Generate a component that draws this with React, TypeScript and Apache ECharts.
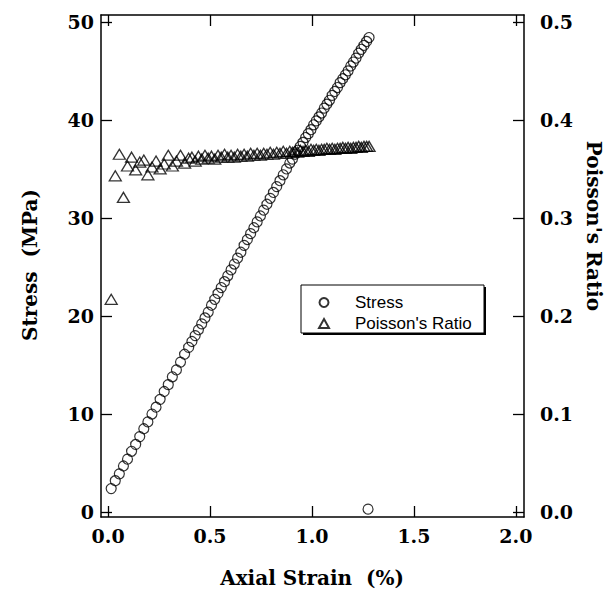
import React, { useEffect, useRef } from "react";
import * as echarts from "echarts";

// Axial strain (%) for each reading
const strain = [
  0.015, 0.035, 0.055, 0.075, 0.095, 0.115, 0.135, 0.155, 0.175, 0.195,
  0.215, 0.235, 0.255, 0.275, 0.295, 0.315, 0.335, 0.355, 0.375, 0.395,
  0.411, 0.427, 0.443, 0.459, 0.475, 0.491, 0.507, 0.523, 0.539, 0.555,
  0.571, 0.587, 0.603, 0.619, 0.635, 0.651, 0.667, 0.683, 0.699, 0.715,
  0.731, 0.747, 0.763, 0.779, 0.795, 0.811, 0.827, 0.843, 0.859, 0.875,
  0.891, 0.904, 0.917, 0.930, 0.943, 0.956, 0.969, 0.982, 0.995, 1.008,
  1.021, 1.034, 1.047, 1.060, 1.073, 1.086, 1.099, 1.112, 1.125, 1.138,
  1.151, 1.164, 1.177, 1.190, 1.203, 1.216, 1.229, 1.242, 1.255, 1.268,
  1.280,
];

// Stress (MPa)
const stress = [
  2.4, 3.2, 3.9, 4.7, 5.4, 6.2, 6.9, 7.7, 8.5, 9.2,
  10.0, 10.7, 11.5, 12.3, 13.0, 13.8, 14.5, 15.3, 16.1, 16.8,
  17.4, 18.0, 18.6, 19.2, 19.8, 20.4, 21.1, 21.7, 22.3, 22.9,
  23.5, 24.1, 24.7, 25.3, 25.9, 26.5, 27.2, 27.8, 28.4, 29.0,
  29.6, 30.2, 30.8, 31.4, 32.0, 32.6, 33.2, 33.8, 34.4, 35.0,
  35.6, 36.0, 36.5, 36.9, 37.3, 37.7, 38.2, 38.6, 39.0, 39.5,
  39.9, 40.3, 40.7, 41.2, 41.6, 42.0, 42.5, 42.9, 43.3, 43.8,
  44.2, 44.6, 45.0, 45.5, 45.9, 46.3, 46.8, 47.2, 47.6, 48.0,
  48.4,
];

// Stray stress reading near zero
const outlierStrain = [1.275];
const outlierStress = [0.3];

// Poisson's ratio
const poisson = [
  0.217, 0.343, 0.365, 0.321, 0.353, 0.362, 0.349, 0.357, 0.359, 0.344,
  0.352, 0.358, 0.350, 0.355, 0.364, 0.353, 0.358, 0.364, 0.356, 0.361,
  0.362, 0.358, 0.363, 0.360, 0.364, 0.361, 0.363, 0.360, 0.364, 0.362,
  0.365, 0.362, 0.364, 0.362, 0.365, 0.363, 0.365, 0.363, 0.366, 0.364,
  0.366, 0.364, 0.366, 0.365, 0.367, 0.365, 0.367, 0.366, 0.368, 0.366,
  0.368, 0.367, 0.368, 0.367, 0.369, 0.368, 0.369, 0.368, 0.370, 0.369,
  0.370, 0.369, 0.370, 0.370, 0.371, 0.370, 0.371, 0.370, 0.371, 0.371,
  0.372, 0.371, 0.372, 0.371, 0.372, 0.372, 0.373, 0.372, 0.373, 0.373,
  0.373,
];

const xTicks = [0, 0.5, 1.0, 1.5, 2.0];
const stressTicks = [0, 10, 20, 30, 40, 50];
const poissonTicks = [0, 0.1, 0.2, 0.3, 0.4, 0.5];

const SERIF = "DejaVu Serif";
const SANS = "Liberation Sans";

export default function App() {
  const ref = useRef<HTMLDivElement>(null);

  useEffect(() => {
    if (!ref.current) return;
    const chart = echarts.init(ref.current, null, { renderer: "svg" });

    const stressData = strain.map((x, i) => [x, stress[i]]).concat(
      outlierStrain.map((x, i) => [x, outlierStress[i]])
    );
    const poissonData = strain.map((x, i) => [x, poisson[i]]);

    const tickLabel = {
      color: "#000",
      fontFamily: SERIF,
      fontWeight: "bold" as const,
      fontSize: 19,
    };
    const lineStyle = { color: "#000", width: 1.5 };
    const tickLine = { color: "#000", width: 1.3 };

    chart.setOption({
      animation: false,
      backgroundColor: "#fff",
      grid: { left: 101, top: 15, width: 423, height: 502, containLabel: false },
      xAxis: [
        {
          type: "value",
          position: "bottom",
          min: -0.035,
          max: 2.04,
          splitLine: { show: false },
          axisLine: { show: true, onZero: false, lineStyle },
          axisTick: { show: true, inside: true, length: 11, customValues: xTicks, lineStyle: tickLine },
          axisLabel: {
            ...tickLabel,
            margin: 9,
            customValues: xTicks,
            formatter: (v: number) => v.toFixed(1),
          },
        },
        {
          type: "value",
          position: "top",
          min: -0.035,
          max: 2.04,
          splitLine: { show: false },
          axisLine: { show: true, onZero: false, lineStyle },
          axisTick: { show: true, inside: true, length: 11, customValues: xTicks, lineStyle: tickLine },
          axisLabel: { show: false },
        },
      ],
      yAxis: [
        {
          type: "value",
          position: "left",
          min: -0.5,
          max: 50.7,
          splitLine: { show: false },
          axisLine: { show: true, onZero: false, lineStyle },
          axisTick: { show: true, inside: true, length: 11, customValues: stressTicks, lineStyle: tickLine },
          axisLabel: {
            ...tickLabel,
            margin: 7,
            customValues: stressTicks,
            formatter: (v: number) => String(v),
          },
        },
        {
          type: "value",
          position: "right",
          min: -0.005,
          max: 0.507,
          splitLine: { show: false },
          axisLine: { show: true, onZero: false, lineStyle },
          axisTick: { show: true, inside: true, length: 11, customValues: poissonTicks, lineStyle: tickLine },
          axisLabel: {
            ...tickLabel,
            margin: 16,
            customValues: poissonTicks,
            formatter: (v: number) => v.toFixed(1),
          },
        },
      ],
      legend: {
        orient: "vertical",
        left: 318,
        top: 294,
        padding: 0,
        itemGap: 4,
        itemWidth: 10,
        itemHeight: 9,
        data: ["Stress", "Poisson's Ratio"],
        selectedMode: false,
        textStyle: {
          color: "#000",
          fontFamily: SANS,
          fontSize: 17,
          lineHeight: 15,
          padding: [0, 0, 0, 21],
        },
        z: 10,
      },
      graphic: [
        {
          type: "rect",
          z: 8,
          shape: { x: 303, y: 287, width: 183, height: 48 },
          style: { fill: "#000" },
        },
        {
          type: "rect",
          z: 9,
          shape: { x: 301, y: 285, width: 183, height: 48 },
          style: { fill: "#fff", stroke: "#000", lineWidth: 1 },
        },
        {
          type: "text",
          x: 312,
          y: 578,
          style: {
            text: "Axial Strain  (%)",
            fontFamily: SERIF,
            fontWeight: "bold",
            fontSize: 20,
            fill: "#000",
            align: "center",
            verticalAlign: "middle",
          },
        },
        {
          type: "text",
          x: 30,
          y: 265,
          rotation: Math.PI / 2,
          style: {
            text: "Stress  (MPa)",
            fontFamily: SERIF,
            fontWeight: "bold",
            fontSize: 20,
            fill: "#000",
            align: "center",
            verticalAlign: "middle",
          },
        },
        {
          type: "text",
          x: 594,
          y: 226,
          rotation: -Math.PI / 2,
          style: {
            text: "Poisson's Ratio",
            fontFamily: SERIF,
            fontWeight: "bold",
            fontSize: 20,
            fill: "#000",
            align: "center",
            verticalAlign: "middle",
          },
        },
      ],
      series: [
        {
          name: "Stress",
          type: "scatter",
          xAxisIndex: 0,
          yAxisIndex: 0,
          symbol: "circle",
          symbolSize: 10,
          itemStyle: { color: "rgba(255,255,255,0)", borderColor: "#000", borderWidth: 1.2 },
          emphasis: { disabled: true },
          data: stressData,
        },
        {
          name: "Poisson's Ratio",
          type: "scatter",
          xAxisIndex: 0,
          yAxisIndex: 1,
          symbol: "triangle",
          symbolSize: [12, 10],
          itemStyle: { color: "rgba(255,255,255,0)", borderColor: "#000", borderWidth: 1.3 },
          emphasis: { disabled: true },
          data: poissonData,
        },
      ],
    });

    return () => chart.dispose();
  }, []);

  return (
    <div
      ref={ref}
      style={{ position: "absolute", left: 0, top: 0, width: 610, height: 589 }}
    />
  );
}
